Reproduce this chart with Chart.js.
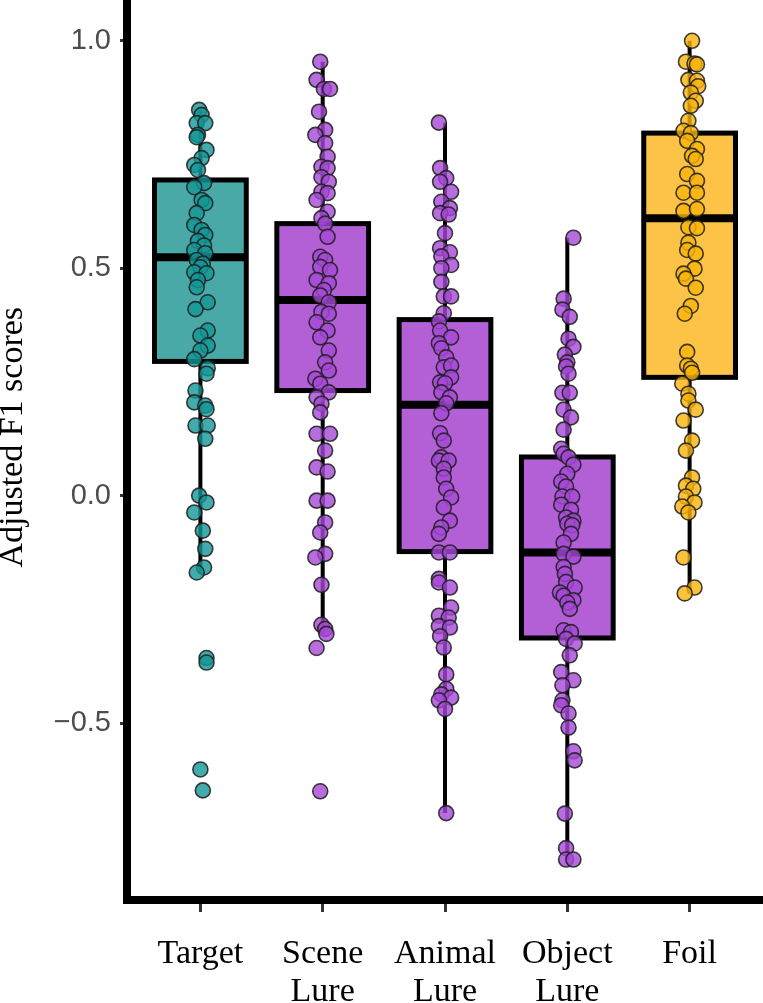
<!DOCTYPE html>
<html>
<head>
<meta charset="utf-8">
<script src="https://cdn.jsdelivr.net/npm/chart.js@4/dist/chart.umd.min.js"></script>
<style>
  html, body { margin: 0; padding: 0; background: #fff; overflow: hidden; }
  #wrap { width: 763px; height: 1003px; position: relative; }
  canvas { display: block; }
</style>
</head>
<body>
<div id="wrap"><canvas id="chart"></canvas></div>
<script>
// categories along x
const categories = [['Target'], ['Scene', 'Lure'], ['Animal', 'Lure'], ['Object', 'Lure'], ['Foil']];
const yTicks = [-0.5, 0, 0.5, 1.0];

// box stats per group: [whiskerLow, q1, median, q3, whiskerHigh]
const targetBox = [-0.17, 0.295, 0.524, 0.694, 0.848];
const sceneBox  = [-0.304, 0.231, 0.43, 0.598, 0.954];
const animalBox = [-0.698, -0.123, 0.2, 0.387, 0.82];
const objectBox = [-0.80, -0.313, -0.125, 0.085, 0.567];
const foilBox   = [-0.215, 0.26, 0.61, 0.797, 1.0];

// jittered scores, y value and horizontal jitter (category units)
const targetY = [0.848, 0.837, 0.819, 0.819, 0.793, 0.788, 0.76, 0.742, 0.727, 0.716, 0.687, 0.678, 0.65, 0.643, 0.621,
  0.595, 0.584, 0.573, 0.56, 0.55, 0.54, 0.533, 0.518, 0.51, 0.502, 0.491, 0.489, 0.474, 0.458, 0.425, 0.41, 0.363, 0.352,
  0.33, 0.319, 0.30, 0.28, 0.268, 0.231, 0.205, 0.198, 0.19, 0.154, 0.154, 0.125, 0.0, -0.015, -0.037, -0.077, -0.117,
  -0.158, -0.169, -0.357, -0.367, -0.602, -0.648];
const targetJit = [-0.01, 0.01, -0.03, 0.04, -0.02, -0.03, 0.05, 0.01, -0.05, -0.02, 0.03, -0.05, 0.01, 0.04, -0.03,
  -0.05, 0.01, 0.04, -0.02, 0.03, -0.05, 0.04, -0.03, 0.02, 0.0, -0.05, 0.05, -0.02, -0.03, 0.06, -0.04, 0.06, 0.0,
  0.06, 0.0, -0.05, 0.06, 0.05, -0.04, -0.05, 0.04, 0.05, -0.04, 0.06, 0.04, -0.01, 0.05, -0.05, 0.02, 0.04,
  0.03, -0.03, 0.05, 0.05, 0.0, 0.02];

const sceneY = [0.954, 0.914, 0.894, 0.894, 0.844, 0.804, 0.793, 0.775, 0.745, 0.723, 0.72, 0.70, 0.69, 0.668, 0.665,
  0.65, 0.624, 0.61, 0.598, 0.569, 0.525, 0.518, 0.503, 0.496, 0.474, 0.467, 0.452, 0.44, 0.425, 0.404, 0.40, 0.381,
  0.363, 0.348, 0.319, 0.293, 0.275, 0.257, 0.246, 0.227, 0.216, 0.202, 0.183, 0.136, 0.136, 0.099, 0.062, 0.053,
  -0.011, -0.011, -0.059, -0.081, -0.128, -0.136, -0.196, -0.284, -0.293, -0.304, -0.335, -0.65];
const sceneJit = [-0.02, -0.05, 0.01, 0.06, -0.03, 0.02, -0.06, 0.02, 0.04, -0.01, 0.04, -0.01, 0.05, -0.01, 0.04,
  -0.05, 0.04, -0.01, 0.02, 0.04, -0.02, 0.02, -0.02, 0.06, -0.05, 0.05, 0.01, -0.02, 0.05, -0.01, 0.05, -0.05,
  0.04, -0.02, 0.05, 0.02, 0.05, -0.06, -0.02, 0.05, -0.05, -0.01, -0.02, -0.05, 0.06, 0.02, -0.05, 0.04,
  -0.05, 0.04, 0.02, -0.02, 0.02, -0.06, -0.01, -0.01, 0.02, 0.03, -0.05, -0.02];

const animalY = [0.82, 0.72, 0.698, 0.69, 0.668, 0.646, 0.632, 0.621, 0.618, 0.577, 0.544, 0.535, 0.526, 0.507, 0.50,
  0.47, 0.438, 0.438, 0.401, 0.383, 0.363, 0.348, 0.335, 0.324, 0.304, 0.282, 0.286, 0.26, 0.249, 0.247, 0.227, 0.216,
  0.203, 0.181, 0.137, 0.121, 0.084, 0.077, 0.077, 0.059, 0.04, 0.015, -0.004, -0.026, -0.055, -0.07, -0.084, -0.125,
  -0.125, -0.183, -0.191, -0.202, -0.246, -0.264, -0.268, -0.287, -0.29, -0.309, -0.334, -0.393, -0.425, -0.437,
  -0.444, -0.45, -0.469, -0.698];
const animalJit = [-0.05, -0.04, 0.01, -0.04, 0.05, -0.03, 0.04, -0.04, 0.03, 0.0, -0.04, 0.04, -0.03, 0.05, -0.03,
  -0.03, -0.01, 0.05, -0.01, -0.05, -0.04, 0.05, -0.05, -0.03, 0.01, -0.01, 0.05, 0.05, -0.04, 0.0, -0.03, 0.04,
  0.01, -0.03, -0.04, -0.01, -0.03, -0.05, 0.03, -0.01, -0.01, 0.01, 0.05, -0.01, 0.04, -0.03, -0.05, -0.05,
  0.04, -0.05, -0.05, 0.04, 0.05, -0.05, 0.03, -0.05, 0.04, -0.04, -0.01, 0.01, 0.01, -0.03,
  0.05, -0.05, 0.0, 0.01];

const objectY = [0.567, 0.433, 0.409, 0.393, 0.345, 0.327, 0.31, 0.293, 0.284, 0.268, 0.226, 0.226, 0.189, 0.172, 0.145,
  0.103, 0.092, 0.084, 0.068, 0.048, 0.031, 0.02, -0.002, -0.002, -0.02, -0.031, -0.048, -0.055, -0.062, -0.065, -0.084,
  -0.103, -0.128, -0.134, -0.157, -0.172, -0.19, -0.202, -0.213, -0.22, -0.23, -0.235, -0.249, -0.296, -0.30, -0.315,
  -0.325, -0.351, -0.388, -0.406, -0.417, -0.45, -0.461, -0.479, -0.51, -0.562, -0.582, -0.699, -0.775, -0.80, -0.80];
const objectJit = [0.05, -0.03, -0.04, 0.02, 0.01, 0.05, -0.02, 0.0, -0.01, 0.01, -0.04, 0.02, -0.03, 0.03, -0.03,
  -0.05, -0.03, 0.01, 0.05, 0.0, -0.05, -0.01, -0.04, 0.04, -0.05, 0.03, -0.01, 0.05, 0.0, 0.04, 0.03,
  -0.03, -0.03, 0.05, -0.03, -0.02, -0.01, 0.06, -0.06, -0.03, 0.05, 0.0, 0.02, -0.03, 0.03, -0.01,
  0.06, 0.02, -0.05, 0.05, -0.04, -0.04, -0.05, 0.01, 0.01, 0.05, 0.06, -0.02, -0.01, -0.01, 0.05];

const foilY = [1.0, 0.954, 0.95, 0.948, 0.914, 0.912, 0.90, 0.886, 0.868, 0.857, 0.824, 0.802, 0.797, 0.78, 0.762,
  0.747, 0.74, 0.707, 0.692, 0.666, 0.666, 0.626, 0.63, 0.59, 0.588, 0.556, 0.54, 0.532, 0.499, 0.488, 0.477, 0.457,
  0.417, 0.40, 0.316, 0.286, 0.279, 0.27, 0.246, 0.224, 0.209, 0.189, 0.165, 0.121, 0.099, 0.04, 0.022, 0.015,
  -0.002, -0.015, -0.024, -0.037, -0.136, -0.202, -0.215];
const foilJit = [0.02, -0.03, 0.04, 0.06, -0.01, 0.06, 0.07, 0.01, 0.05, 0.01, -0.01, -0.05, 0.01, -0.02, 0.06,
  0.02, 0.05, -0.02, 0.06, -0.05, 0.06, -0.05, 0.06, -0.01, 0.06, -0.01, -0.02, 0.05, 0.04, -0.05, -0.03, 0.05,
  0.01, -0.04, -0.02, -0.02, 0.01, 0.02, -0.06, -0.01, -0.01, 0.05, -0.05, 0.02, -0.03, 0.02, -0.03, 0.03,
  -0.03, 0.04, -0.06, -0.01, -0.05, 0.04, -0.04];

const boxes = [targetBox, sceneBox, animalBox, objectBox, foilBox];
const boxFill = ['#48a9a7', '#b35fd6', '#b35fd6', '#b35fd6', '#fdc346'];
const pointFill = ['rgba(20,150,150,0.8)', 'rgba(165,72,214,0.8)', 'rgba(165,72,214,0.8)', 'rgba(165,72,214,0.8)', 'rgba(250,180,10,0.8)'];
const groupsY = [targetY, sceneY, animalY, objectY, foilY];
const groupsJit = [targetJit, sceneJit, animalJit, objectJit, foilJit];

const datasets = groupsY.map((ys, g) => ({
  data: ys.map((y, i) => ({ x: g + groupsJit[g][i], y: y })),
  backgroundColor: pointFill[g],
  borderColor: 'rgba(30,30,30,0.85)',
  borderWidth: 1.6,
  pointRadius: 7.5,
  pointHoverRadius: 7.5,
  clip: false
}));

// boxplot drawn under the points with the chart's own scales
const boxPlugin = {
  id: 'boxes',
  beforeDatasetsDraw(chart) {
    const ctx = chart.ctx, xs = chart.scales.x, ys = chart.scales.y;
    const half = 0.375;
    ctx.save();
    boxes.forEach((b, g) => {
      const cx = xs.getPixelForValue(g);
      const l = xs.getPixelForValue(g - half), r = xs.getPixelForValue(g + half);
      const [lo, q1, med, q3, hi] = b.map(v => ys.getPixelForValue(v));
      ctx.strokeStyle = '#000';
      ctx.lineWidth = 4;
      ctx.beginPath();
      ctx.moveTo(cx, hi); ctx.lineTo(cx, q3);
      ctx.moveTo(cx, q1); ctx.lineTo(cx, lo);
      ctx.stroke();
      ctx.fillStyle = boxFill[g];
      ctx.fillRect(l, q3, r - l, q1 - q3);
      ctx.lineWidth = 5;
      ctx.strokeRect(l, q3, r - l, q1 - q3);
      ctx.lineWidth = 8;
      ctx.beginPath();
      ctx.moveTo(l, med); ctx.lineTo(r, med);
      ctx.stroke();
    });
    ctx.restore();
  }
};

new Chart(document.getElementById('chart'), {
  type: 'scatter',
  data: { datasets: datasets },
  plugins: [boxPlugin],
  options: {
    responsive: true,
    maintainAspectRatio: false,
    animation: false,
    layout: { padding: 0, autoPadding: false },
    plugins: { legend: { display: false }, tooltip: { enabled: false } },
    scales: {
      x: {
        type: 'linear',
        min: -0.6,
        max: 4.6,
        afterBuildTicks: s => { s.ticks = categories.map((c, i) => ({ value: i })); },
        afterFit: s => { s.height = 103; s.paddingLeft = 0; s.paddingRight = 0; },
        ticks: {
          callback: v => categories[v],
          color: '#000',
          font: { family: '"Liberation Serif", "Times New Roman", serif', size: 34, lineHeight: 1.12 },
          padding: 23,
          maxRotation: 0,
          autoSkip: false
        },
        grid: { drawOnChartArea: false, drawTicks: true, tickLength: 12, tickWidth: 3, tickColor: '#333' },
        border: { display: true, color: '#000', width: 8 }
      },
      y: {
        min: -0.889,
        max: 1.0896,
        afterBuildTicks: s => { s.ticks = yTicks.map(v => ({ value: v })); },
        afterFit: s => { s.width = 127; s.paddingTop = 0; s.paddingBottom = 0; },
        ticks: {
          callback: v => (v < 0 ? '\u2212' : '') + Math.abs(v).toFixed(1),
          color: '#4d4d4d',
          font: { family: '"Liberation Sans", Arial, sans-serif', size: 29 },
          padding: 9
        },
        title: {
          display: true,
          text: '\u00a0\u00a0\u00a0Adjusted F1 scores',
          color: '#000',
          font: { family: '"Liberation Serif", "Times New Roman", serif', size: 34, lineHeight: 1 },
          padding: { top: -4, bottom: 0 }
        },
        grid: { drawOnChartArea: false, drawTicks: true, tickLength: 7, tickWidth: 3, tickColor: '#333' },
        border: { display: true, color: '#000', width: 8 }
      }
    }
  }
});
</script>
</body>
</html>
